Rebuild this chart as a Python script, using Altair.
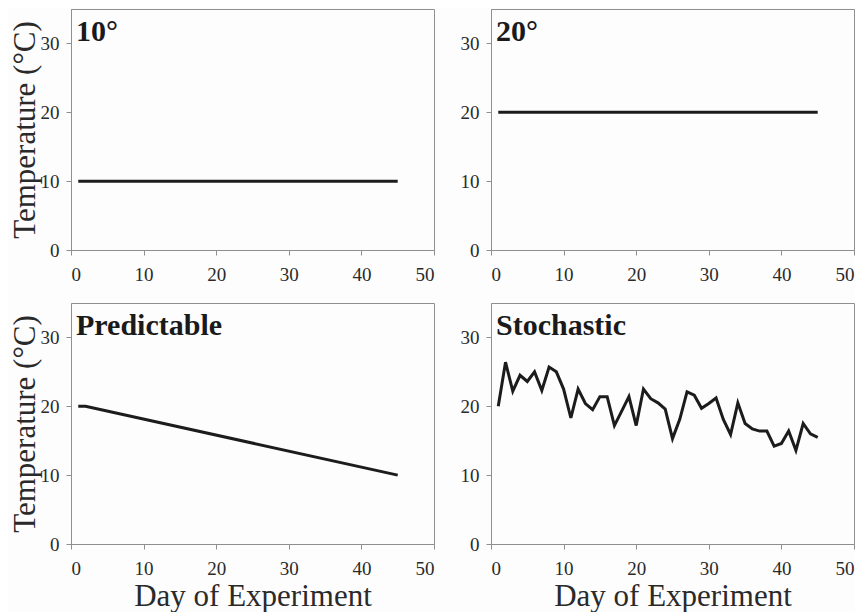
import altair as alt
import pandas as pd

# ---- data ----
days_const = [1, 45]
temp_10 = [10, 10]
temp_20 = [20, 20]
days_pred = [1, 2, 45]
temp_pred = [20, 20, 10]
days_stoch = list(range(1, 46))
temp_stoch = [20.0, 26.4, 22.2, 24.5, 23.6, 25.0, 22.3, 25.7, 25.0, 22.5,
              18.3, 22.5, 20.4, 19.5, 21.4, 21.4, 17.2, 19.3, 21.4, 17.2,
              22.5, 21.1, 20.5, 19.6, 15.3, 18.1, 22.1, 21.6, 19.7, 20.4,
              21.2, 18.1, 15.9, 20.5, 17.5, 16.7, 16.4, 16.4, 14.2, 14.6,
              16.4, 13.6, 17.5, 16.0, 15.5]
panel_titles = ["10°", "20°", "Predictable", "Stochastic"]
x_ticks = [0, 10, 20, 30, 40, 50]
y_ticks = [0, 10, 20, 30]
x_title = "Day of Experiment"
y_title = "Temperature (°C)"

FONT = "Liberation Serif"
PW, PH = 363, 241


def panel(days, temps, title, show_x_title, show_y_title):
    df = pd.DataFrame({"day": days, "temp": temps})
    xax = dict(values=x_ticks)
    yax = dict(values=y_ticks)
    xax["title"] = x_title if show_x_title else None
    yax["title"] = y_title if show_y_title else None
    line = alt.Chart(df).mark_line(color="#1c1c1c", strokeWidth=3).encode(
        x=alt.X("day:Q", scale=alt.Scale(domain=[0, 50], nice=False),
                axis=alt.Axis(**xax)),
        y=alt.Y("temp:Q", scale=alt.Scale(domain=[0, 35], nice=False),
                axis=alt.Axis(**yax)),
    )
    label = alt.Chart(pd.DataFrame({"t": [title]})).mark_text(
        align="left", baseline="alphabetic", font=FONT, fontWeight="bold",
        fontSize=30, color="#1a1a1a"
    ).encode(x=alt.value(5), y=alt.value(32), text="t:N")
    return alt.layer(line, label).properties(width=PW, height=PH)


p1 = panel(days_const, temp_10, panel_titles[0], False, True)
p2 = panel(days_const, temp_20, panel_titles[1], False, False)
p3 = panel(days_pred, temp_pred, panel_titles[2], True, True)
p4 = panel(days_stoch, temp_stoch, panel_titles[3], True, False)

chart = alt.concat(
    p1, p2, p3, p4, columns=2,
    spacing=alt.RowColnumber(row=53, column=57),
    bounds="flush",
).properties(
    padding={"left": 0, "top": 0, "right": 0, "bottom": 0},
    background="#fdfdfe",
).configure_view(
    stroke="#8f8f8f", strokeWidth=1
).configure_axis(
    domainColor="#8f8f8f", tickColor="#8f8f8f", tickSize=5, grid=False,
    labelFont=FONT, labelFontSize=19, labelColor="#2a2a2a", labelPadding=7,
    titleFont=FONT, titleFontSize=31, titleFontWeight="normal",
    titleColor="#2a2a2a", titlePadding=2,
).configure_axisX(
    labelPadding=10, titlePadding=3
).configure_axisY(
    titlePadding=-1
)

chart.save("out.html", embed_options={"renderer": "svg", "actions": False})
